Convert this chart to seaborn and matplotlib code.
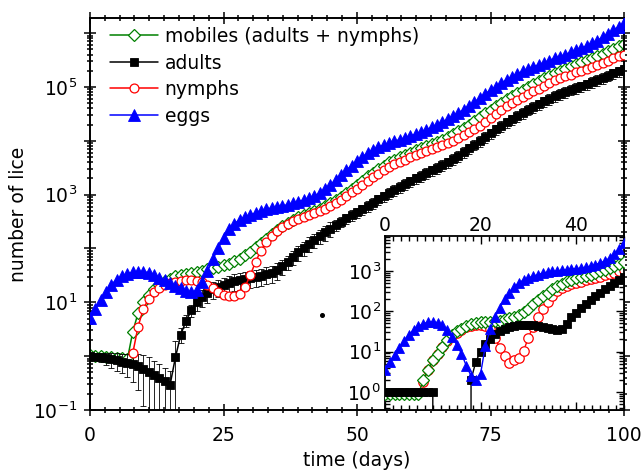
import numpy as np
import pandas as pd
import matplotlib
matplotlib.use("Agg")
import matplotlib.pyplot as plt
import seaborn as sns
from matplotlib.ticker import (LogLocator, MultipleLocator, FuncFormatter,
                               NullFormatter)
from matplotlib.lines import Line2D

# ---------------- data (log10 of number of lice) ----------------
NAN = float("nan")
ZERO = float("-inf")   # log10 of a zero count

days = list(range(101))

mobiles_log10 = [
    0.02, 0.01, 0.00, -0.01, -0.02, -0.03, -0.04, -0.06, 0.45, 0.80,
    1.00, 1.14, 1.25, 1.33, 1.39, 1.44, 1.48, 1.51, 1.53, 1.55,
    1.57, 1.59, 1.61, 1.63, 1.66, 1.69, 1.72, 1.76, 1.81, 1.87,
    1.94, 2.02, 2.10, 2.18, 2.26, 2.34, 2.41, 2.47, 2.53, 2.58,
    2.62, 2.66, 2.70, 2.74, 2.79, 2.84, 2.90, 2.96, 3.03, 3.10,
    3.18, 3.26, 3.34, 3.41, 3.48, 3.54, 3.60, 3.65, 3.70, 3.74,
    3.78, 3.82, 3.86, 3.90, 3.94, 3.98, 4.02, 4.07, 4.12, 4.18,
    4.24, 4.30, 4.37, 4.44, 4.51, 4.58, 4.65, 4.71, 4.77, 4.83,
    4.89, 4.95, 5.00, 5.06, 5.11, 5.16, 5.21, 5.26, 5.30, 5.34,
    5.38, 5.42, 5.46, 5.50, 5.54, 5.58, 5.62, 5.67, 5.71, 5.76,
    5.80]

adults_log10 = [
    0.00, -0.01, -0.02, -0.04, -0.06, -0.08, -0.10, -0.12, -0.14, -0.18,
    -0.23, -0.29, -0.35, -0.41, -0.47, -0.53, -0.02, 0.40, 0.66, 0.86,
    1.00, 1.10, 1.18, 1.24, 1.29, 1.33, 1.36, 1.39, 1.41, 1.43,
    1.45, 1.47, 1.49, 1.52, 1.55, 1.60, 1.67, 1.75, 1.84, 1.93,
    2.01, 2.09, 2.16, 2.23, 2.30, 2.37, 2.44, 2.50, 2.56, 2.62,
    2.67, 2.73, 2.79, 2.85, 2.91, 2.97, 3.03, 3.09, 3.14, 3.20,
    3.25, 3.30, 3.35, 3.40, 3.45, 3.50, 3.55, 3.60, 3.66, 3.72,
    3.79, 3.86, 3.93, 4.00, 4.07, 4.14, 4.21, 4.28, 4.34, 4.40,
    4.46, 4.52, 4.58, 4.63, 4.68, 4.73, 4.78, 4.83, 4.87, 4.91,
    4.95, 4.98, 5.01, 5.05, 5.09, 5.13, 5.17, 5.21, 5.25, 5.29,
    5.33]

# relative standard deviation of the adult counts (error bars)
adults_rel_sd = [
    0.12, 0.15, 0.20, 0.25, 0.30, 0.35, 0.40, 0.45, 0.55, 0.65,
    0.80, 0.90, 0.85, 0.80, 0.75, 0.80, 1.00, 0.30, 0.25, 0.25,
    0.30, 0.35, 0.35, 0.35, 0.35, 0.35, 0.35, 0.35, 0.35, 0.35,
    0.35, 0.35, 0.35, 0.35, 0.35, 0.35, 0.30, 0.30, 0.30, 0.30,
    0.30, 0.30, 0.30, 0.30, 0.30, 0.30, 0.22, 0.22, 0.22, 0.22,
    0.22, 0.22, 0.22, 0.22, 0.22, 0.22, 0.22, 0.22, 0.22, 0.22,
    0.22, 0.22, 0.22, 0.22, 0.22, 0.22, 0.22, 0.22, 0.22, 0.22,
    0.22, 0.22, 0.22, 0.22, 0.22, 0.22, 0.22, 0.22, 0.22, 0.22,
    0.22, 0.22, 0.22, 0.22, 0.22, 0.22, 0.22, 0.22, 0.22, 0.22,
    0.22, 0.22, 0.22, 0.22, 0.22, 0.22, 0.22, 0.22, 0.22, 0.22,
    0.22]

nymphs_log10 = [
    NAN, NAN, NAN, NAN, NAN, NAN, NAN, NAN, 0.05, 0.55,
    0.88, 1.07, 1.19, 1.27, 1.32, 1.36, 1.38, 1.40, 1.41, 1.41,
    1.40, 1.37, 1.32, 1.26, 1.19, 1.14, 1.11, 1.11, 1.16, 1.28,
    1.50, 1.75, 1.96, 2.12, 2.24, 2.33, 2.40, 2.46, 2.51, 2.55,
    2.59, 2.62, 2.65, 2.69, 2.73, 2.78, 2.84, 2.90, 2.97, 3.04,
    3.11, 3.18, 3.25, 3.32, 3.39, 3.45, 3.52, 3.57, 3.61, 3.65,
    3.69, 3.73, 3.77, 3.81, 3.85, 3.88, 3.92, 3.96, 4.00, 4.05,
    4.10, 4.16, 4.22, 4.28, 4.34, 4.42, 4.50, 4.57, 4.64, 4.70,
    4.76, 4.81, 4.86, 4.92, 4.97, 5.02, 5.07, 5.12, 5.16, 5.20,
    5.23, 5.27, 5.30, 5.34, 5.37, 5.41, 5.45, 5.49, 5.53, 5.57,
    5.60]

eggs_log10 = [
    0.70, 0.88, 1.05, 1.20, 1.33, 1.42, 1.49, 1.53, 1.56, 1.57,
    1.57, 1.55, 1.51, 1.46, 1.41, 1.36, 1.31, 1.26, 1.21, 1.19,
    1.22, 1.38, 1.58, 1.80, 2.00, 2.20, 2.36, 2.46, 2.53, 2.58,
    2.62, 2.66, 2.70, 2.73, 2.75, 2.77, 2.79, 2.81, 2.84, 2.87,
    2.90, 2.93, 2.97, 3.03, 3.10, 3.18, 3.27, 3.36, 3.45, 3.54,
    3.62, 3.70, 3.77, 3.83, 3.88, 3.92, 3.95, 3.99, 4.02, 4.05,
    4.09, 4.12, 4.16, 4.20, 4.25, 4.30, 4.35, 4.40, 4.46, 4.52,
    4.58, 4.65, 4.72, 4.79, 4.87, 4.94, 5.00, 5.07, 5.13, 5.19,
    5.24, 5.29, 5.33, 5.37, 5.41, 5.45, 5.49, 5.53, 5.56, 5.60,
    5.64, 5.68, 5.72, 5.76, 5.81, 5.86, 5.92, 5.98, 6.05, 6.12,
    6.19]

# stray single point in the main panel
stray_day = [43.5]
stray_log10 = [0.77]

# inset: single run, days 0..50
inset_days = list(range(51))

inset_mobiles_log10 = [
    -0.06, -0.06, -0.06, -0.06, -0.06, -0.06, -0.06, -0.06, 0.30, 0.55,
    0.78, 0.95, 1.12, 1.28, 1.40, 1.50, 1.57, 1.63, 1.68, 1.71,
    1.73, 1.74, 1.74, 1.75, 1.77, 1.80, 1.83, 1.87, 1.91, 1.98,
    2.07, 2.17, 2.27, 2.37, 2.46, 2.55, 2.62, 2.69, 2.75, 2.79,
    2.82, 2.85, 2.88, 2.91, 2.95, 2.99, 3.03, 3.07, 3.12, 3.17,
    3.22]

inset_adults_log10 = [
    0.00, 0.00, 0.00, 0.00, 0.00, 0.00, 0.00, 0.00, 0.00, 0.00,
    0.00, ZERO, ZERO, ZERO, ZERO, ZERO, ZERO, ZERO, 0.30, 0.75,
    1.00, 1.18, 1.32, 1.44, 1.52, 1.57, 1.61, 1.64, 1.66, 1.66,
    1.66, 1.65, 1.64, 1.62, 1.59, 1.56, 1.54, 1.56, 1.68, 1.85,
    1.97, 2.08, 2.17, 2.27, 2.37, 2.46, 2.55, 2.63, 2.70, 2.77,
    2.85]

inset_nymphs_log10 = [
    NAN, NAN, NAN, NAN, NAN, NAN, NAN, NAN, 0.25, 0.55,
    0.78, 0.95, 1.12, 1.27, 1.38, 1.47, 1.54, 1.60, 1.64, 1.66,
    1.66, 1.64, 1.55, 1.35, 1.10, 0.90, 0.72, 0.78, 0.84, 1.02,
    1.35, 1.62, 1.85, 2.05, 2.22, 2.37, 2.50, 2.58, 2.64, 2.68,
    2.71, 2.74, 2.77, 2.80, 2.83, 2.86, 2.89, 2.92, 2.96, 3.00,
    3.03]

inset_eggs_log10 = [
    0.55, 0.75, 0.92, 1.10, 1.27, 1.42, 1.54, 1.63, 1.69, 1.73,
    1.74, 1.72, 1.65, 1.53, 1.37, 1.17, 0.95, 0.65, 0.40, 0.30,
    0.45, 1.15, 1.55, 1.85, 2.08, 2.30, 2.46, 2.60, 2.70, 2.78,
    2.83, 2.87, 2.91, 2.95, 2.97, 2.99, 3.00, 3.02, 3.03, 3.05,
    3.06, 3.07, 3.09, 3.12, 3.16, 3.20, 3.25, 3.32, 3.42, 3.55,
    3.70]

labels = ["mobiles (adults + nymphs)", "adults", "nymphs", "eggs"]
colors = {"mobiles": "#008000", "adults": "black", "nymphs": "#ff0000", "eggs": "#0000ff"}

# ---------------- build tables ----------------
main = pd.DataFrame({
    "day": days,
    "mobiles": np.power(10.0, mobiles_log10),
    "adults": np.power(10.0, adults_log10),
    "nymphs": np.power(10.0, nymphs_log10),
    "eggs": np.power(10.0, eggs_log10),
})
main["adults_sd"] = main["adults"] * np.array(adults_rel_sd)

ins = pd.DataFrame({
    "day": inset_days,
    "mobiles": np.power(10.0, inset_mobiles_log10),
    "adults": np.power(10.0, inset_adults_log10),
    "nymphs": np.power(10.0, inset_nymphs_log10),
    "eggs": np.power(10.0, inset_eggs_log10),
})

# ---------------- style ----------------
sns.set_theme(style="ticks")
plt.rcParams["font.family"] = ["DejaVu Sans"]
plt.rcParams["mathtext.default"] = "regular"
plt.rcParams["axes.unicode_minus"] = False
FS = 13.5

W, H = 642, 473
fig = plt.figure(figsize=(W / 100, H / 100), dpi=100)
fig.patch.set_facecolor("white")

L, R, T, B = 90, 624, 18, 410
ax = fig.add_axes([L / W, 1 - B / H, (R - L) / W, (B - T) / H])
ax.set_facecolor("white")

styles = {
    "mobiles": dict(marker="D", markersize=6.6, markerfacecolor="white",
                    markeredgecolor=colors["mobiles"], markeredgewidth=0.9),
    "adults": dict(marker="s", markersize=6.3, markerfacecolor="black",
                   markeredgecolor="black", markeredgewidth=0.6),
    "nymphs": dict(marker="o", markersize=6.4, markerfacecolor="white",
                   markeredgecolor=colors["nymphs"], markeredgewidth=0.9),
    "eggs": dict(marker="^", markersize=8.2, markerfacecolor=colors["eggs"],
                 markeredgecolor=colors["eggs"], markeredgewidth=0.6),
}
zord = {"mobiles": 2, "adults": 3, "nymphs": 4, "eggs": 5}

# error bars of adults (drawn below markers)
ax.errorbar(main["day"], main["adults"], yerr=main["adults_sd"], fmt="none",
            ecolor="black", elinewidth=0.6, capsize=2.2, capthick=0.6, zorder=2.5)

for key in ["mobiles", "adults", "nymphs", "eggs"]:
    sns.lineplot(data=main, x="day", y=key, ax=ax, estimator=None, sort=False,
                 color=colors[key], linewidth=1.1, zorder=zord[key],
                 legend=False, **styles[key])

ax.plot(stray_day, np.power(10.0, stray_log10), "o", color="black",
        markersize=2.6, zorder=6)

ax.set_yscale("log")
ax.set_xlim(0, 100)
ax.set_ylim(0.1, 10 ** 6.28)

ax.xaxis.set_major_locator(MultipleLocator(25))
ax.xaxis.set_minor_locator(MultipleLocator(25 / 9))
ax.yaxis.set_major_locator(LogLocator(base=10, numticks=20))
ax.yaxis.set_minor_locator(LogLocator(base=10, subs=np.arange(2, 10), numticks=20))


def odd_decades(v, pos):
    e = int(round(np.log10(v)))
    return r"$10^{%d}$" % e if e % 2 != 0 else ""


ax.yaxis.set_major_formatter(FuncFormatter(odd_decades))
ax.yaxis.set_minor_formatter(NullFormatter())

for s in ax.spines.values():
    s.set_linewidth(1.4)
    s.set_color("black")
ax.tick_params(which="both", direction="inout", top=True, right=True,
               color="black", width=1.1, labelsize=FS, labelcolor="black")
ax.tick_params(which="major", length=9, pad=5)
ax.tick_params(axis="x", which="major", pad=7)
ax.tick_params(which="minor", length=5)

ax.set_xlabel("time (days)", fontsize=FS, labelpad=4, color="black")
ax.set_ylabel("number of lice", fontsize=FS, labelpad=3, color="black")

handles = [Line2D([0], [0], color=colors[k], linewidth=1.1, **styles[k])
           for k in ["mobiles", "adults", "nymphs", "eggs"]]
leg = ax.legend(handles, labels, loc="upper left",
                bbox_to_anchor=((110 - L) / (R - L), (B - 27) / (B - T)),
                frameon=False, fontsize=FS, borderpad=0, borderaxespad=0,
                handlelength=2.55, handletextpad=0.37, labelspacing=0.4)
for t in leg.get_texts():
    t.set_color("black")

# ---------------- inset ----------------
IL, IR, IT, IB = 385, 624, 236, 410
axi = fig.add_axes([IL / W, 1 - IB / H, (IR - IL) / W, (IB - IT) / H])
axi.set_facecolor("white")

istyles = {
    "mobiles": dict(marker="D", markersize=6.4, markerfacecolor="white",
                    markeredgecolor=colors["mobiles"], markeredgewidth=0.9),
    "adults": dict(marker="s", markersize=5.8, markerfacecolor="black",
                   markeredgecolor="black", markeredgewidth=0.6),
    "nymphs": dict(marker="o", markersize=6.8, markerfacecolor="white",
                   markeredgecolor=colors["nymphs"], markeredgewidth=0.9),
    "eggs": dict(marker="^", markersize=7.4, markerfacecolor=colors["eggs"],
                 markeredgecolor=colors["eggs"], markeredgewidth=0.6),
}
izord = {"nymphs": 2, "mobiles": 3, "adults": 4, "eggs": 5}
for key in ["nymphs", "mobiles", "adults", "eggs"]:
    sns.lineplot(data=ins, x="day", y=key, ax=axi, estimator=None, sort=False,
                 color=colors[key], linewidth=1.0, zorder=izord[key],
                 legend=False, **istyles[key])

axi.set_yscale("log")
axi.set_xlim(0, 50)
axi.set_ylim(10 ** -0.45, 10 ** 3.87)
axi.xaxis.set_major_locator(MultipleLocator(20))
axi.xaxis.set_minor_locator(MultipleLocator(20 / 12))
axi.yaxis.set_major_locator(LogLocator(base=10, numticks=20))
axi.yaxis.set_minor_locator(LogLocator(base=10, subs=np.arange(2, 10), numticks=20))
axi.yaxis.set_major_formatter(FuncFormatter(lambda v, p: r"$10^{%d}$" % int(round(np.log10(v)))))
axi.yaxis.set_minor_formatter(NullFormatter())
axi.xaxis.tick_top()
for s in axi.spines.values():
    s.set_linewidth(1.3)
    s.set_color("black")
axi.tick_params(which="both", direction="in", top=True, bottom=True,
                left=True, right=True, labeltop=True, labelbottom=False,
                color="black", width=1.0, labelsize=FS, labelcolor="black")
axi.tick_params(which="major", length=6, pad=0.5)
axi.tick_params(which="minor", length=3.5)
axi.tick_params(axis="y", which="major", pad=3)
axi.set_xlabel("")
axi.set_ylabel("")

fig.savefig("out.png", dpi=100, facecolor="white")
